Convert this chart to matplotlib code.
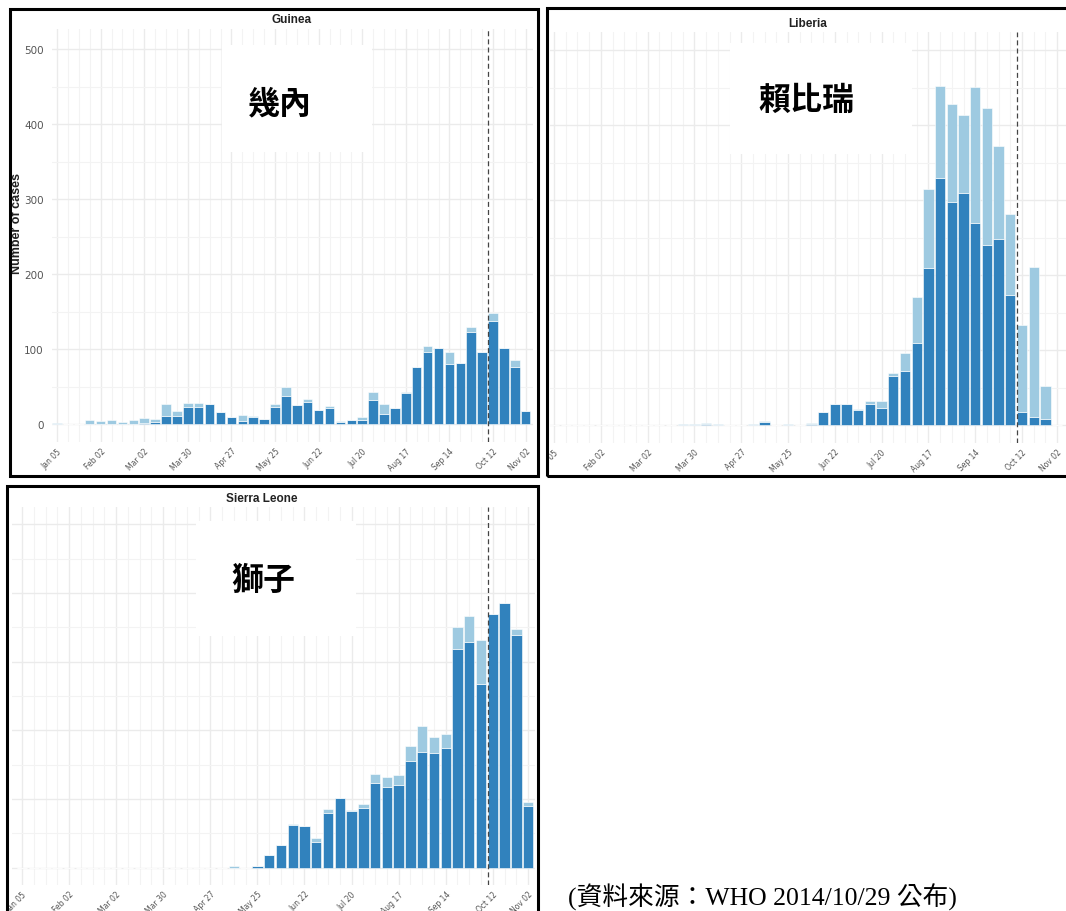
import numpy as np
import matplotlib
matplotlib.use("Agg")
import matplotlib.pyplot as plt
from matplotlib.patches import Rectangle
from matplotlib.transforms import Bbox, TransformedBbox

# --- weekly data ---
weeks = np.arange(44)  # week 0 = Jan 05 2014 ... week 43 = Nov 02
tick_weeks = [0, 4, 8, 12, 16, 20, 24, 28, 32, 36, 40, 43]
tick_labels = ["Jan 05", "Feb 02", "Mar 02", "Mar 30", "Apr 27", "May 25",
               "Jun 22", "Jul 20", "Aug 17", "Sep 14", "Oct 12", "Nov 02"]

guinea_confirmed = [0, 0, 0, 0, 0, 0, 0, 0, 1, 3, 11, 11, 23, 23, 27, 16, 10, 4, 9, 7,
                    23, 37, 25, 30, 19, 22, 3, 6, 6, 32, 13, 21, 41, 76, 96, 102, 80, 82,
                    123, 96, 137, 102, 76, 18]
guinea_other = [1, 0, 0, 5, 4, 5, 3, 5, 7, 4, 16, 7, 5, 5, 0, 0, 0, 8, 2, 0,
                4, 13, 0, 3, 0, 2, 1, 0, 3, 11, 14, 0, 2, 0, 8, 0, 16, 0,
                7, 0, 11, 0, 9, 0]

liberia_confirmed = [0, 0, 0, 0, 0, 0, 0, 0, 0, 0, 0, 0, 0, 2, 0, 0, 0, 0, 4, 0,
                     0, 0, 2, 17, 28, 28, 20, 28, 23, 66, 72, 110, 210, 329, 298, 310,
                     269, 240, 248, 173, 18, 11, 8, 0]
liberia_other = [0, 0, 0, 0, 0, 0, 0, 0, 0, 0, 0, 2, 2, 1, 1, 0, 0, 1, 1, 0,
                 1, 0, 1, 0, 0, 0, 2, 4, 9, 4, 24, 61, 105, 123, 130, 103,
                 182, 183, 124, 108, 116, 200, 44, 0]

sierra_confirmed = [0, 0, 0, 0, 0, 0, 0, 0, 0, 0, 0, 0, 0, 0, 0, 0, 0, 0, 0, 0,
                    3, 18, 33, 62, 61, 38, 80, 101, 82, 87, 123, 118, 120, 155, 169,
                    167, 174, 319, 329, 268, 370, 386, 338, 90]
sierra_other = [0, 0, 0, 0, 0, 0, 0, 0, 0, 0, 0, 0, 0, 0, 0, 0, 0, 0, 2, 0,
                0, 0, 0, 2, 0, 5, 5, 0, 2, 6, 13, 14, 15, 22, 37, 23, 21, 32,
                37, 64, 0, 0, 9, 5]

report_week = 39.57  # dashed line, just before Oct 12

DARK = "#3182bd"
LIGHT = "#9ecae1"
GRID = "#ebebeb"
TICKC = "#555555"

W, H = 1066, 912
fig = plt.figure(figsize=(W / 100, H / 100), dpi=100)
fig.patch.set_facecolor("white")


def px_rect(l, t, r, b):
    return [l / W, 1 - b / H, (r - l) / W, (b - t) / H]


def panel(box, week0, step, y0, ppu, axes_px, confirmed, other,
          title, title_xy, ylabels=False, clip=None):
    l, t, r, b = axes_px
    ax = fig.add_axes(px_rect(l, t, r, b))
    ax.set_xlim((l - week0) / step, (r - week0) / step)
    ax.set_ylim(-(b - y0) / ppu, (y0 - t) / ppu)
    ax.set_facecolor("white")
    for s in ax.spines.values():
        s.set_visible(False)

    ax.set_xticks(weeks, minor=True)
    ax.set_xticks(tick_weeks)
    ax.set_xticklabels(tick_labels, rotation=45, ha="right", va="top",
                       rotation_mode="anchor", fontsize=5.5, color=TICKC)
    ax.set_yticks(np.arange(0, 501, 100))
    ax.set_yticks(np.arange(50, 501, 100), minor=True)
    ax.grid(which="major", color=GRID, lw=1.0)
    ax.grid(which="minor", color="#f3f3f3", lw=0.8)
    ax.tick_params(which="both", length=0, pad=3)
    if ylabels:
        ax.tick_params(axis="y", labelsize=7.5, labelcolor=TICKC, pad=6)
    else:
        ax.tick_params(axis="y", labelleft=False)
    ax.set_axisbelow(True)

    ax.bar(weeks, confirmed, width=0.88, color=DARK, edgecolor="white", lw=0.4)
    ax.bar(weeks, other, bottom=confirmed, width=0.88, color=LIGHT,
           edgecolor="white", lw=0.4)
    ax.axvline(report_week, color="#444444", lw=0.9, ls=(0, (4, 2.5)))

    if clip is not None:
        cb = TransformedBbox(Bbox.from_extents(clip[0] / W, 1 - clip[3] / H,
                                               clip[2] / W, 1 - clip[1] / H),
                             fig.transFigure)
        for lbl in ax.get_xticklabels():
            lbl.set_clip_box(cb)
            lbl.set_clip_on(True)

    bl, bt, br, bb = box
    fig.patches.append(Rectangle((bl / W, 1 - bb / H), (br - bl) / W, (bb - bt) / H,
                                 transform=fig.transFigure, fill=False,
                                 edgecolor="black", lw=2.2, zorder=5))
    fig.text(title_xy[0] / W, 1 - title_xy[1] / H, title, ha="center", va="center",
             fontsize=8.5, fontweight="bold", color="#222222",
             family=["Liberation Sans", "DejaVu Sans"])
    return ax


ax_g = panel((10, 10, 538, 477), 57, 10.9, 425, 0.75, (52, 30, 533, 443),
             guinea_confirmed, guinea_other, "Guinea", (292, 20), ylabels=True)
fig.text(17 / W, 1 - 224 / H, "Number of cases", rotation=90, ha="center",
         va="center", fontsize=9, fontweight="bold", color="#222222",
         family=["Liberation Sans", "DejaVu Sans"])

ax_l = panel((547, 9, 1070, 477), 554, 11.7, 426, 0.75, (550, 33, 1066, 444),
             liberia_confirmed, liberia_other, "Liberia", (808, 24),
             clip=(548, 0, 1066, 476))

ax_s = panel((7, 487, 538, 916), 22, 11.77, 868.7, 0.687, (12, 508, 535, 886),
             sierra_confirmed, sierra_other, "Sierra Leone", (262, 499),
             clip=(8, 488, 537, 912))

# white boxes with the Chinese country names
cjk = ["Noto Sans CJK TC", "DejaVu Sans"]
for (l, t, r, b), name, (cx, cy) in [((222, 46, 372, 153), "幾內", (280, 104)),
                                     ((730, 44, 912, 155), "賴比瑞", (806, 101)),
                                     ((196, 522, 356, 637), "獅子", (263, 581))]:
    fig.patches.append(Rectangle((l / W, 1 - b / H), (r - l) / W, (b - t) / H,
                                 transform=fig.transFigure, facecolor="white",
                                 edgecolor="none", zorder=4))
    fig.text(cx / W, 1 - cy / H, name, ha="center", va="center", fontsize=23,
             fontweight="bold", family=cjk, zorder=6)

fig.text(568 / W, 1 - 897 / H, "(資料來源：WHO 2014/10/29 公布)", ha="left",
         va="center", fontsize=18.5, family=["Liberation Serif", "Noto Sans CJK TC"])

fig.savefig("out.png", dpi=100, facecolor="white")
